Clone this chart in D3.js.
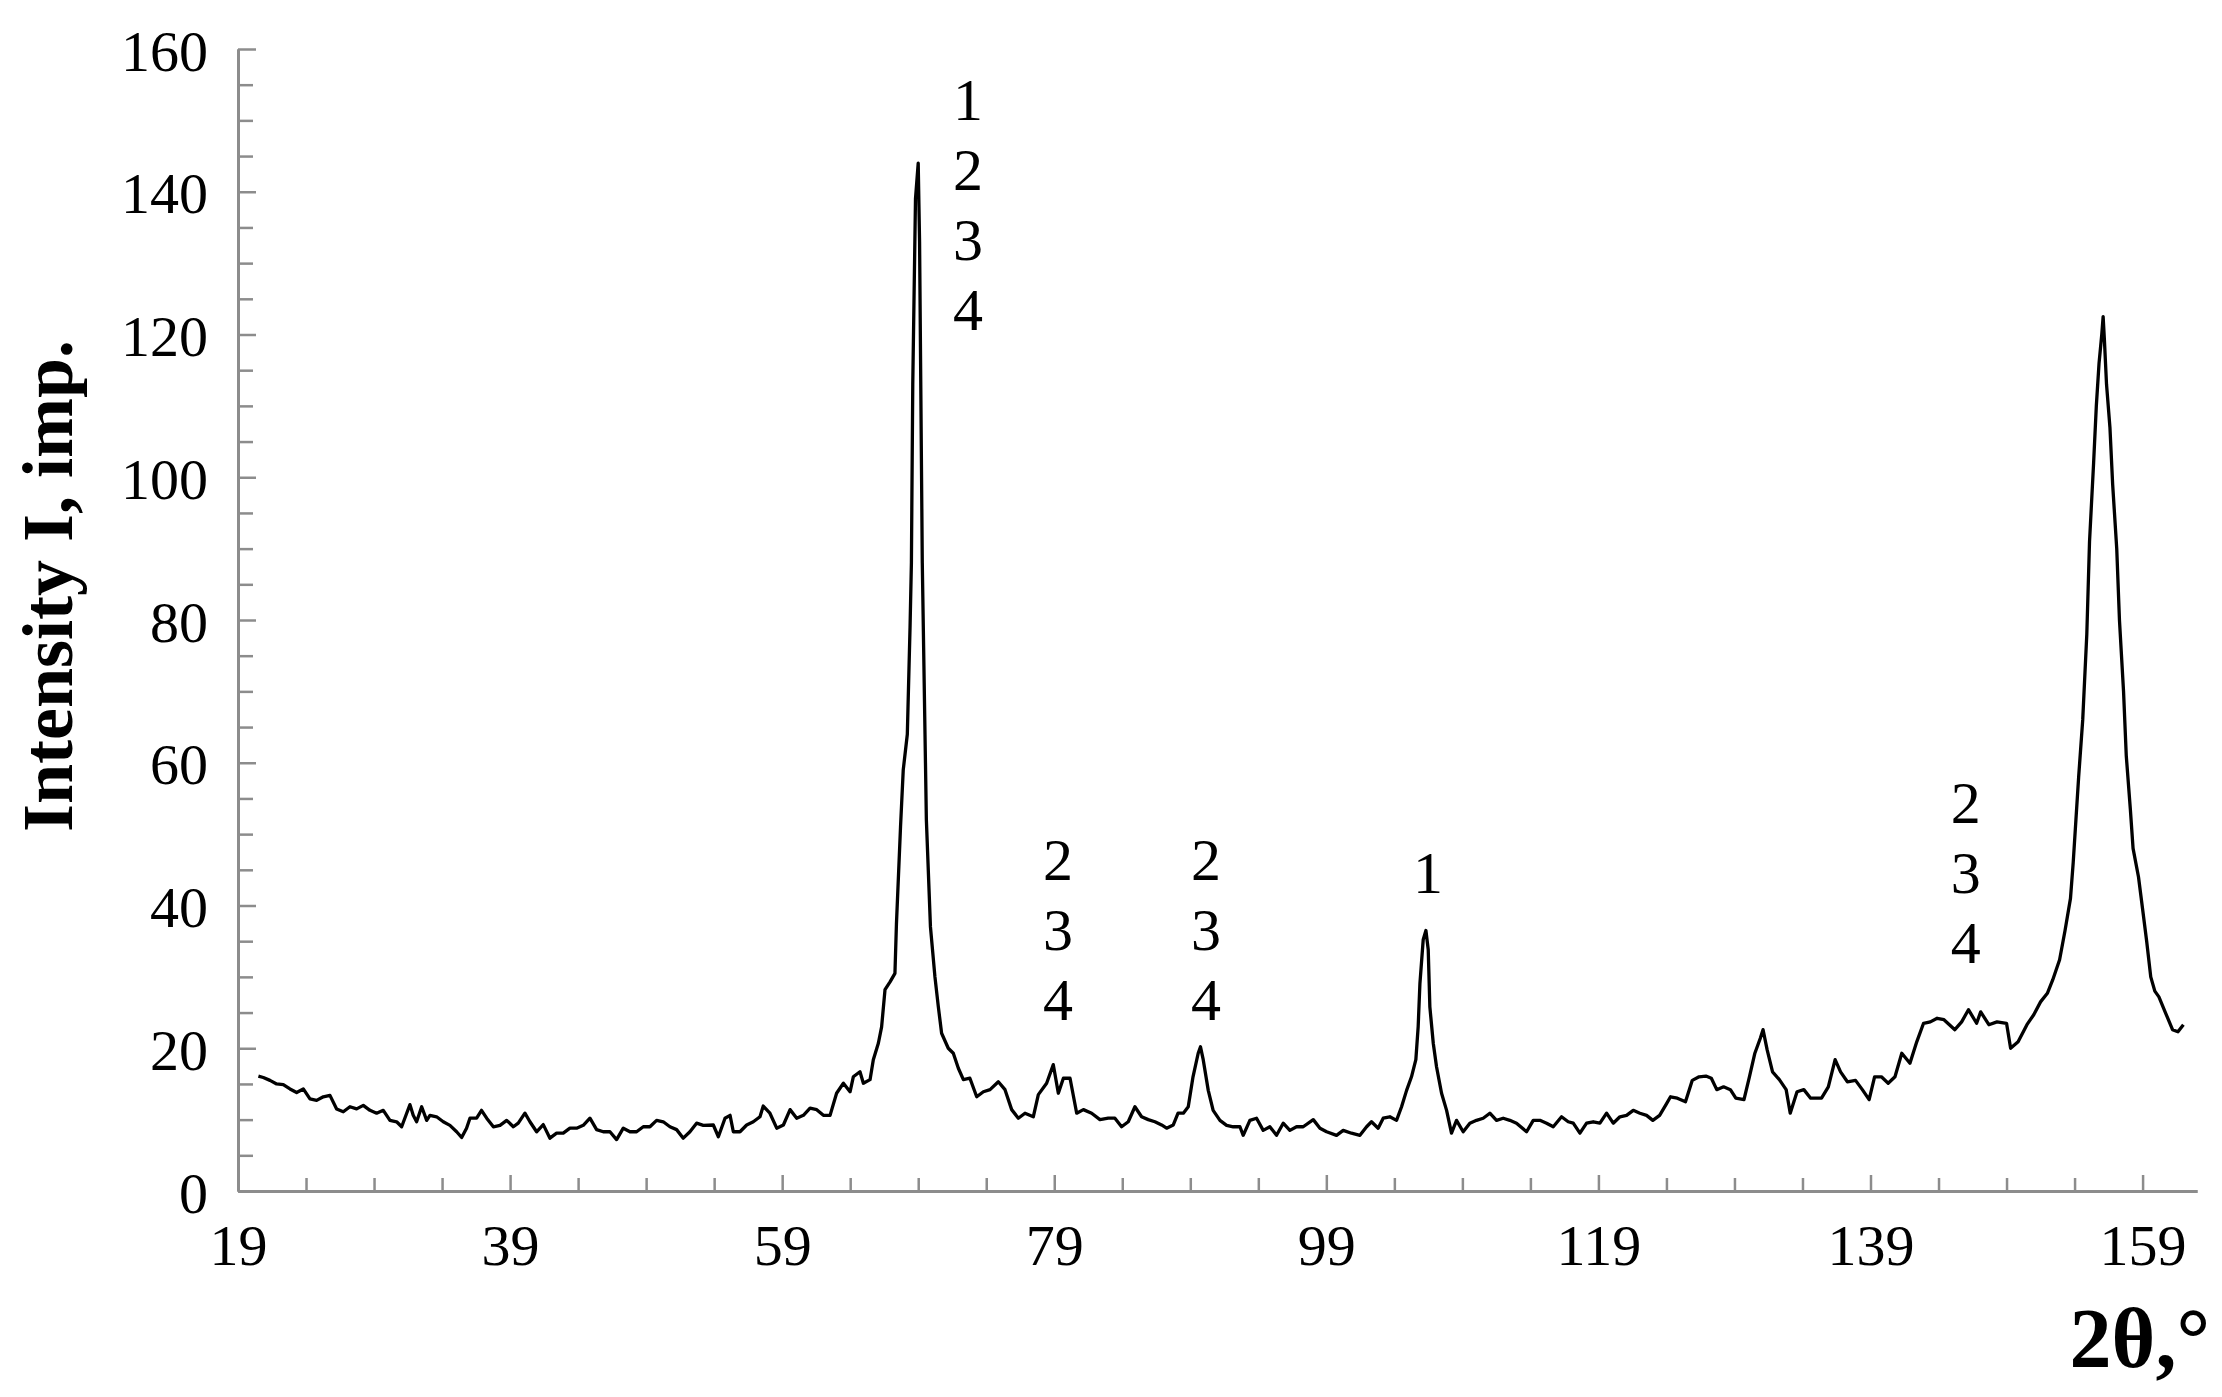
<!DOCTYPE html>
<html>
<head>
<meta charset="utf-8">
<script src="https://cdn.jsdelivr.net/npm/d3@7"></script>
<style>
  html, body { margin: 0; padding: 0; background: #ffffff; }
  svg { display: block; }
</style>
</head>
<body>
<script>
// ---- data ----
const twoTheta = [
  20.5, 20.86, 21.35, 21.84, 22.33, 22.82, 23.31, 23.8, 24.29, 24.78, 25.27, 25.76, 26.25, 26.74, 27.23, 27.72,
  28.21, 28.7, 29.19, 29.68, 30.17, 30.66, 31.03, 31.4, 31.64, 31.88, 32.13, 32.5, 32.87, 33.11, 33.6, 34.09,
  34.58, 35.07, 35.44, 35.8, 36.05, 36.54, 36.9, 37.28, 37.77, 38.26, 38.75, 39.24, 39.6, 40.09, 40.46, 40.95,
  41.44, 41.93, 42.42, 42.91, 43.4, 43.89, 44.38, 44.87, 45.36, 45.85, 46.34, 46.83, 47.32, 47.81, 48.3, 48.79,
  49.28, 49.77, 50.26, 50.75, 51.24, 51.73, 52.22, 52.71, 53.2, 53.94, 54.31, 54.8, 55.17, 55.41, 55.9, 56.39,
  56.88, 57.37, 57.61, 58.1, 58.6, 59.09, 59.58, 60.07, 60.56, 61.05, 61.54, 62.03, 62.52, 63.0, 63.5, 63.99,
  64.23, 64.72, 64.97, 65.46, 65.7, 66.07, 66.31, 66.56, 66.93, 67.29, 67.4, 67.7, 67.9, 68.2, 68.4, 68.5,
  68.6, 68.8, 69.0, 69.1, 69.3, 69.6, 69.9, 70.23, 70.48, 70.72, 71.21, 71.58, 71.95, 72.32, 72.8, 73.3,
  73.79, 74.28, 74.89, 75.38, 75.87, 76.36, 76.85, 77.46, 77.83, 78.44, 78.93, 79.3, 79.67, 80.16, 80.65, 81.14,
  81.75, 82.36, 82.97, 83.46, 83.95, 84.44, 84.93, 85.42, 85.91, 86.4, 86.89, 87.26, 87.75, 88.1, 88.49, 88.85,
  89.2, 89.58, 89.75, 89.95, 90.32, 90.68, 91.18, 91.67, 92.16, 92.65, 92.89, 93.38, 93.87, 94.36, 94.85, 95.34,
  95.83, 96.32, 96.81, 97.3, 98.04, 98.53, 99.02, 99.75, 100.24, 100.85, 101.47, 101.96, 102.32, 102.81, 103.18, 103.67,
  104.16, 104.53, 104.9, 105.26, 105.58, 105.75, 105.88, 106.12, 106.32, 106.49, 106.61, 106.86, 107.1, 107.47, 107.84, 108.2,
  108.57, 109.06, 109.55, 110.04, 110.53, 111.02, 111.51, 112.0, 112.49, 112.98, 113.72, 114.21, 114.7, 115.19, 115.68, 116.29,
  116.78, 117.15, 117.64, 118.13, 118.62, 119.11, 119.6, 120.09, 120.58, 121.07, 121.56, 122.05, 122.54, 123.0, 123.5, 124.0,
  124.3, 124.8, 125.4, 125.9, 126.4, 126.9, 127.3, 127.7, 128.2, 128.7, 129.1, 129.7, 130.1, 130.5, 130.9, 131.1,
  131.4, 131.8, 132.3, 132.8, 133.1, 133.6, 134.1, 134.6, 135.4, 135.9, 136.4, 136.8, 137.3, 137.9, 138.4, 138.9,
  139.3, 139.8, 140.3, 140.8, 141.3, 141.9, 142.4, 142.9, 143.4, 143.9, 144.4, 145.2, 145.7, 146.2, 146.8, 147.1,
  147.7, 148.3, 149.0, 149.3, 149.85, 150.5, 151.0, 151.5, 152.0, 152.4, 152.9, 153.3, 153.7, 153.9, 154.1, 154.3,
  154.6, 154.9, 155.1, 155.4, 155.6, 155.8, 156.0, 156.1, 156.2, 156.35, 156.6, 156.8, 157.1, 157.3, 157.6, 157.8,
  158.1, 158.3, 158.7, 159.0, 159.3, 159.6, 159.9, 160.2, 160.7, 161.2, 161.6, 162.0
];
const intensity = [
  16.1, 15.9, 15.5, 15.0, 14.9, 14.3, 13.8, 14.3, 12.9, 12.7, 13.2, 13.4, 11.5, 11.1, 11.8, 11.5,
  12.0, 11.3, 10.9, 11.3, 9.9, 9.7, 9.0, 10.9, 12.1, 10.6, 9.7, 11.8, 9.9, 10.6, 10.4, 9.7,
  9.2, 8.3, 7.5, 8.8, 10.2, 10.2, 11.3, 10.2, 9.0, 9.2, 9.9, 9.0, 9.5, 10.9, 9.7, 8.3,
  9.3, 7.4, 8.1, 8.1, 8.8, 8.8, 9.2, 10.2, 8.6, 8.3, 8.3, 7.2, 8.8, 8.3, 8.3, 9.0,
  9.0, 9.9, 9.7, 9.0, 8.6, 7.4, 8.3, 9.5, 9.2, 9.25, 7.6, 10.2, 10.6, 8.3, 8.3, 9.25,
  9.7, 10.4, 11.9, 10.9, 8.8, 9.25, 11.4, 10.2, 10.6, 11.6, 11.4, 10.6, 10.6, 13.7, 15.1, 13.9,
  16.0, 16.7, 15.1, 15.6, 18.4, 20.7, 23.0, 28.2, 29.3, 30.5, 37.4, 51.0, 59.0, 64.0, 79.0, 88.0,
  113.0, 139.0, 144.0, 133.0, 88.0, 52.0, 37.0, 30.0, 25.8, 22.1, 20.0, 19.3, 17.2, 15.6, 15.8, 13.2,
  13.9, 14.2, 15.3, 14.2, 11.4, 10.2, 10.9, 10.4, 13.5, 15.1, 17.7, 13.7, 15.8, 15.8, 10.9, 11.4,
  10.9, 10.0, 10.2, 10.2, 9.0, 9.7, 11.8, 10.4, 10.0, 9.7, 9.25, 8.8, 9.25, 10.9, 10.9, 11.8,
  16.0, 19.3, 20.2, 18.4, 14.1, 11.3, 9.9, 9.2, 9.0, 9.0, 7.8, 9.9, 10.2, 8.5, 9.0, 7.8,
  9.5, 8.5, 9.0, 9.0, 10.0, 8.8, 8.3, 7.8, 8.5, 8.1, 7.8, 9.0, 9.7, 8.8, 10.2, 10.4,
  9.9, 11.8, 14.1, 16.0, 18.4, 23.0, 29.1, 35.2, 36.5, 33.8, 25.8, 20.7, 17.4, 13.7, 11.3, 8.1,
  9.9, 8.3, 9.5, 9.9, 10.2, 10.9, 9.9, 10.2, 9.9, 9.5, 8.3, 9.9, 9.9, 9.5, 9.0, 10.4,
  9.7, 9.5, 8.1, 9.5, 9.7, 9.5, 10.9, 9.5, 10.4, 10.6, 11.3, 10.9, 10.6, 9.9, 10.6, 12.2,
  13.2, 13.0, 12.5, 15.5, 16.0, 16.1, 15.8, 14.2, 14.6, 14.2, 13.0, 12.8, 16.0, 19.3, 21.4, 22.6,
  19.8, 16.7, 15.6, 14.2, 10.9, 13.9, 14.2, 13.0, 13.0, 14.6, 18.4, 16.7, 15.3, 15.5, 14.2, 12.8,
  16.0, 16.0, 15.1, 16.0, 19.3, 17.9, 20.9, 23.5, 23.7, 24.2, 24.0, 22.6, 23.7, 25.4, 23.5, 25.1,
  23.3, 23.7, 23.5, 20.0, 20.9, 23.3, 24.7, 26.5, 27.7, 29.6, 32.4, 36.5, 41.0, 46.0, 52.0, 58.0,
  66.0, 78.0, 91.0, 102.0, 110.0, 116.0, 120.0, 122.5, 119.0, 113.0, 107.0, 99.0, 90.0, 80.0, 70.0, 61.0,
  53.5, 48.0, 44.0, 39.5, 35.0, 30.0, 28.0, 27.2, 24.9, 22.6, 22.3, 23.3
];
const xTickLabels = [19, 39, 59, 79, 99, 119, 139, 159];
const yTickLabels = [0, 20, 40, 60, 80, 100, 120, 140, 160];
const xDomain = [19, 163];
const yDomain = [0, 160];

// peak annotations: 2θ position, intensity of the first label's baseline, label stack
const annX = [72.66, 79.27, 90.15, 106.47, 146.01];
const annY = [150.05, 43.6, 43.6, 41.75, 51.6];
const annLabels = [["1", "2", "3", "4"], ["2", "3", "4"], ["2", "3", "4"], ["1"], ["2", "3", "4"]];

const xTitle = "2θ,°";
const yTitle = "Intensity I, imp.";

// ---- drawing ----
const W = 2222, H = 1397;
const plotLeft = 238, plotRight = 2197, plotTop = 49, plotBottom = 1191;
const serif = "'Liberation Serif', 'Times New Roman', serif";
const axisColor = "#8c8c8c";

const svg = d3.select("body").append("svg")
  .attr("width", W).attr("height", H)
  .style("background", "#ffffff");

const x = d3.scaleLinear().domain(xDomain).range([plotLeft, plotRight]);
const y = d3.scaleLinear().domain(yDomain).range([plotBottom, plotTop]);

// minor tick values every 5 units
const xMinor = d3.range(xDomain[0], xDomain[1] + 0.001, 5).filter(v => !xTickLabels.includes(v));
const yMinor = d3.range(yDomain[0], yDomain[1] + 0.001, 5).filter(v => !yTickLabels.includes(v));

function styleAxis(g) {
  g.attr("font-family", null).attr("font-size", null);
  g.selectAll("path.domain").attr("stroke", axisColor).attr("stroke-width", 3);
  g.selectAll(".tick line").attr("stroke", axisColor).attr("stroke-width", 2.5);
}

// x axis minor
svg.append("g").attr("transform", `translate(0,${plotBottom})`)
  .call(d3.axisBottom(x).tickValues(xMinor).tickSize(-13).tickSizeOuter(0).tickFormat(""))
  .call(styleAxis);
// x axis major with labels
const gx = svg.append("g").attr("transform", `translate(0,${plotBottom})`)
  .call(d3.axisBottom(x).tickValues(xTickLabels).tickSize(-16).tickSizeOuter(0).tickFormat(d3.format("d")))
  .call(styleAxis);
gx.selectAll(".tick text")
  .attr("y", 74).attr("dy", null)
  .attr("fill", "#000").attr("font-family", serif).attr("font-size", 58);

// y axis minor
svg.append("g").attr("transform", `translate(${plotLeft},0)`)
  .call(d3.axisLeft(y).tickValues(yMinor).tickSize(-15).tickSizeOuter(0).tickFormat(""))
  .call(styleAxis);
// y axis major with labels
const gy = svg.append("g").attr("transform", `translate(${plotLeft},0)`)
  .call(d3.axisLeft(y).tickValues(yTickLabels).tickSize(-18).tickSizeOuter(0).tickFormat(d3.format("d")))
  .call(styleAxis);
gy.selectAll(".tick text")
  .attr("x", -30).attr("dy", null).attr("y", 21)
  .attr("text-anchor", "end")
  .attr("fill", "#000").attr("font-family", serif).attr("font-size", 58);

// diffraction curve
const pts = twoTheta.map((t, i) => [t, intensity[i]]);
svg.append("path")
  .datum(pts)
  .attr("fill", "none")
  .attr("stroke", "#000")
  .attr("stroke-width", 3.3)
  .attr("stroke-linejoin", "round")
  .attr("d", d3.line().x(d => x(d[0])).y(d => y(d[1])));

// annotations
const lineStep = 70;
annX.forEach((ax, i) => {
  annLabels[i].forEach((lab, j) => {
    svg.append("text")
      .attr("x", x(ax))
      .attr("y", y(annY[i]) + j * lineStep)
      .attr("text-anchor", "middle")
      .attr("font-family", serif)
      .attr("font-size", 60)
      .attr("fill", "#000")
      .text(lab);
  });
});

// axis titles
svg.append("text")
  .attr("x", 2210).attr("y", 1367)
  .attr("text-anchor", "end")
  .attr("font-family", serif).attr("font-weight", "bold").attr("font-size", 84)
  .attr("fill", "#000")
  .text(xTitle);

svg.append("text")
  .attr("transform", "translate(72,586) rotate(-90)")
  .attr("text-anchor", "middle")
  .attr("font-family", serif).attr("font-weight", "bold").attr("font-size", 72)
  .attr("fill", "#000")
  .text(yTitle);
</script>
</body>
</html>
